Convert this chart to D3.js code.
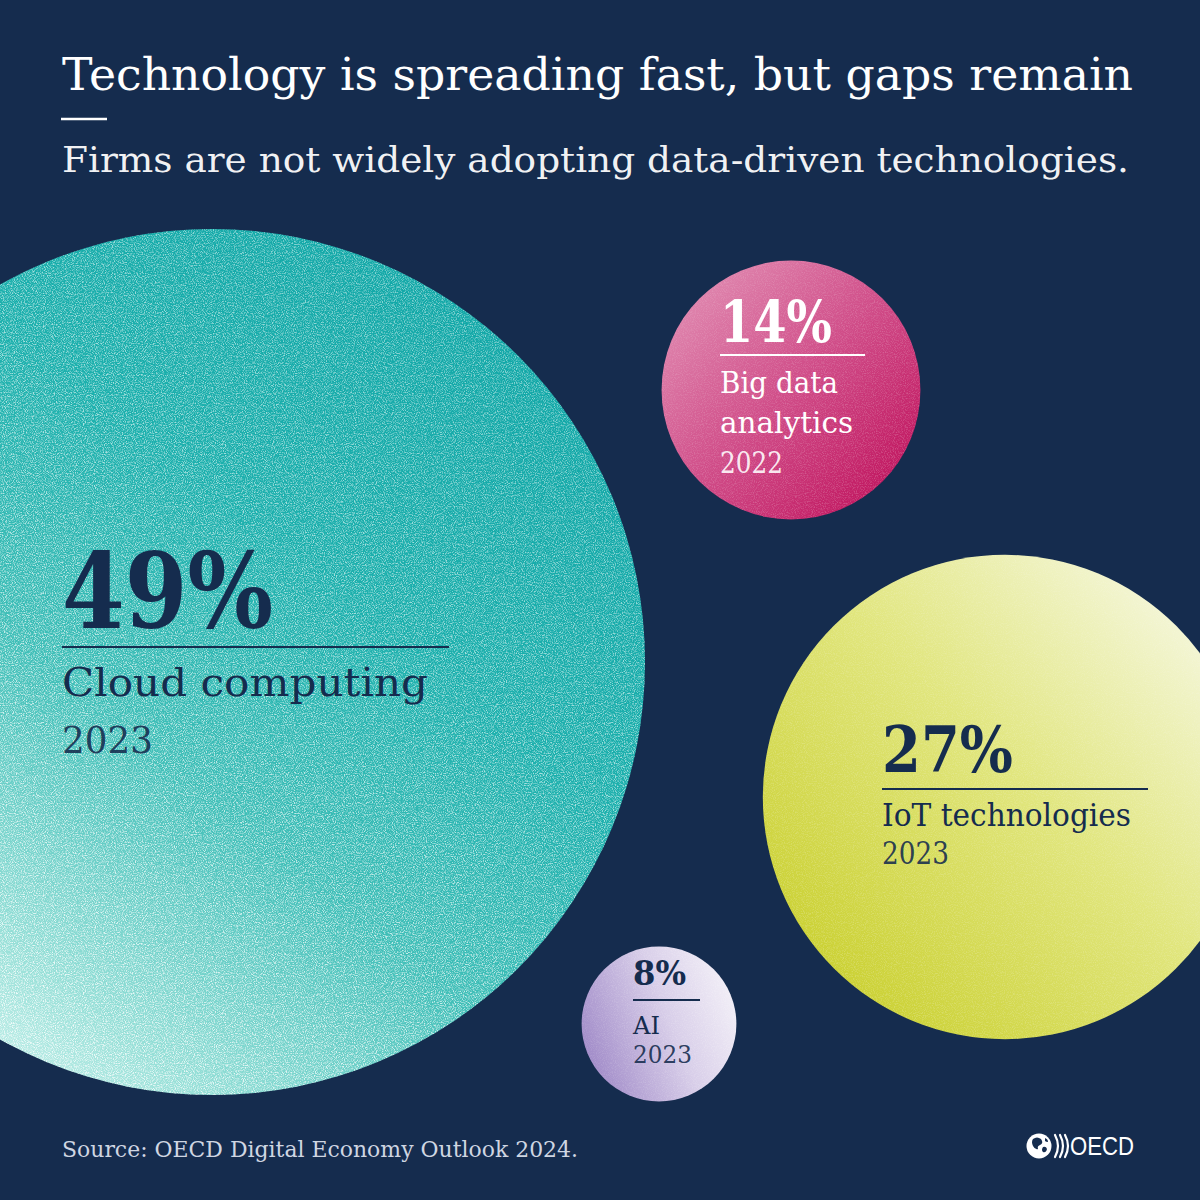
<!DOCTYPE html>
<html><head><meta charset="utf-8">
<script src="https://cdn.jsdelivr.net/npm/d3@7"></script>
<style>html,body{margin:0;padding:0;background:#152c4e;} svg{display:block}</style>
</head><body>
<script>
// ---------- data ----------
const categories = ["Cloud computing", "Big data analytics", "IoT technologies", "AI"];
const values = [49, 14, 27, 8];
const years = ["2023", "2022", "2023", "2023"];
const nameLines = [["Cloud computing"], ["Big data", "analytics"], ["IoT technologies"], ["AI"]];
const titleText = "Technology is spreading fast, but gaps remain";
const subtitleText = "Firms are not widely adopting data-driven technologies.";
const sourceText = "Source: OECD Digital Economy Outlook 2024.";

// ---------- layout & style ----------
const W = 1200, H = 1200;
const BG = "#152c4e", NAVY = "#152c4e";
const SERIF = "'DejaVu Serif', 'Liberation Serif', serif";
const centers = [[212, 662], [791, 390], [1005, 797], [659, 1024]];
const gradients = [
  {x1: 0.85, y1: 0.08, x2: 0.15, y2: 0.95, stops: [[0, "#11a7a7"], [0.35, "#1cb0ad"], [0.6, "#40bfb8"], [0.85, "#98e0d8"], [1, "#d4f5f0"]], noise: 0.85},
  {x1: 0.1, y1: 0.1, x2: 0.9, y2: 0.9, stops: [[0, "#e089b0"], [0.5, "#d04c88"], [1, "#c0145e"]], noise: 0.2},
  {x1: 0.9, y1: 0.12, x2: 0.1, y2: 0.9, stops: [[0, "#f5f7dc"], [0.45, "#e1e67e"], [1, "#c9cf2c"]], noise: 0.2},
  {x1: 0.0, y1: 0.65, x2: 1.0, y2: 0.25, stops: [[0, "#a08ac8"], [0.55, "#d8cee9"], [1, "#f4f1f8"]], noise: 0.2}
];
const labelLayout = [
  {x: 62, pctY: 628, pctSize: 104, pctW: 211, ruleY: 647, ruleW: 387, rule: 2, nameY: [696], nameSize: 39, nameW: [366], yearY: 753, yearSize: 38, yearW: 91, color: NAVY},
  {x: 720, pctY: 342, pctSize: 58, pctW: 112, ruleY: 355, ruleW: 145, rule: 2, nameY: [393, 433], nameSize: 29, nameW: [118, 133], yearY: 473, yearSize: 29, yearW: 63, color: "#ffffff"},
  {x: 882, pctY: 772, pctSize: 63, pctW: 131, ruleY: 789, ruleW: 266, rule: 2, nameY: [826], nameSize: 31, nameW: [249], yearY: 864, yearSize: 31, yearW: 67, color: NAVY},
  {x: 633, pctY: 985, pctSize: 34, pctW: 53, ruleY: 1000, ruleW: 67, rule: 2, nameY: [1034], nameSize: 24, nameW: [27], yearY: 1063, yearSize: 24, yearW: 59, color: NAVY}
];

// radius scale (linear in value)
const r = d3.scaleLinear().domain([0, 49]).range([8, 433]);

const svg = d3.select("body").append("svg").attr("width", W).attr("height", H);
svg.append("rect").attr("width", W).attr("height", H).attr("fill", BG);
const defs = svg.append("defs");

// grain filter
const f = defs.append("filter").attr("id", "grain").attr("x", "0%").attr("y", "0%").attr("width", "100%").attr("height", "100%");
f.append("feTurbulence").attr("type", "fractalNoise").attr("baseFrequency", 0.9).attr("numOctaves", 2).attr("seed", 7).attr("result", "n");
f.append("feColorMatrix").attr("in", "n").attr("type", "matrix")
  .attr("values", "0 0 0 0 1  0 0 0 0 1  0 0 0 0 1  3.2 0 0 0 -1.4").attr("result", "speck");
f.append("feComposite").attr("in", "speck").attr("in2", "SourceGraphic").attr("operator", "in");

gradients.forEach((g, i) => {
  const lg = defs.append("linearGradient").attr("id", "grad" + i)
    .attr("x1", g.x1).attr("y1", g.y1).attr("x2", g.x2).attr("y2", g.y2);
  g.stops.forEach(s => lg.append("stop").attr("offset", s[0]).attr("stop-color", s[1]));
  const mg = defs.append("linearGradient").attr("id", "ngrad" + i)
    .attr("x1", g.x1).attr("y1", g.y1).attr("x2", g.x2).attr("y2", g.y2);
  mg.append("stop").attr("offset", 0).attr("stop-color", "#fff").attr("stop-opacity", 0.55);
  mg.append("stop").attr("offset", 1).attr("stop-color", "#fff").attr("stop-opacity", 1);
  const m = defs.append("mask").attr("id", "mask" + i).attr("maskContentUnits", "objectBoundingBox");
  m.append("rect").attr("width", 1).attr("height", 1).attr("fill", "url(#ngrad" + i + ")");
});

const data = categories.map((c, i) => ({cat: c, value: values[i], year: years[i], lines: nameLines[i],
  cx: centers[i][0], cy: centers[i][1], L: labelLayout[i], i}));

const bubbles = svg.selectAll("g.bubble").data(data).join("g").attr("class", "bubble");
bubbles.append("circle").attr("cx", d => d.cx).attr("cy", d => d.cy).attr("r", d => r(d.value))
  .attr("fill", d => "url(#grad" + d.i + ")");
bubbles.append("g").attr("mask", d => "url(#mask" + d.i + ")")
  .append("circle").attr("cx", d => d.cx).attr("cy", d => d.cy).attr("r", d => r(d.value))
  .attr("fill", "#fff").attr("filter", "url(#grain)").attr("opacity", d => gradients[d.i].noise);

function addText(sel, str, x, y, size, width, opts = {}) {
  const t = sel.append("text").attr("x", x).attr("y", y).attr("font-size", size)
    .attr("font-family", opts.family || SERIF).attr("font-weight", opts.weight || 400)
    .attr("fill", opts.fill || "#fff").text(str);
  if (opts.opacity) t.attr("fill-opacity", opts.opacity);
  if (width) t.attr("textLength", width).attr("lengthAdjust", "spacingAndGlyphs");
  return t;
}

// labels
bubbles.each(function (d) {
  const g = d3.select(this), L = d.L;
  addText(g, d.value + "%", L.x, L.pctY, L.pctSize, L.pctW, {weight: 700, fill: L.color});
  g.append("line").attr("x1", L.x).attr("x2", L.x + L.ruleW).attr("y1", L.ruleY).attr("y2", L.ruleY)
    .attr("stroke", L.color).attr("stroke-width", L.rule);
  d.lines.forEach((ln, k) => addText(g, ln, L.x, L.nameY[k], L.nameSize, L.nameW[k], {fill: L.color}));
  addText(g, d.year, L.x, L.yearY, L.yearSize, L.yearW, {fill: L.color, opacity: 0.9});
});

// title, rule, subtitle
addText(svg, titleText, 62, 90, 45, 1071, {fill: "#ffffff"});
svg.append("line").attr("x1", 61).attr("x2", 107).attr("y1", 119).attr("y2", 119).attr("stroke", "#fff").attr("stroke-width", 2.5);
addText(svg, subtitleText, 62, 172, 36, 1067, {fill: "#ffffff", opacity: 0.95});

// source
addText(svg, sourceText, 62, 1157, 23, 516, {fill: "#cfd6e2"});

// OECD logo
const logo = svg.append("g");
logo.append("circle").attr("cx", 1039).attr("cy", 1146).attr("r", 12.5).attr("fill", "#fff");
logo.append("path").attr("d", "M1033,1139 q4,-3 8,0 q3,4 -1,6 q-3,1 -2,4 q-3,1 -5,-3 q-2,-4 0,-7 z").attr("fill", BG);
logo.append("path").attr("d", "M1043,1147 q3,-1 4,2 q-1,4 -4,3 q-2,-2 0,-5 z").attr("fill", BG);
logo.append("path").attr("d", "M1045,1138 q3,1 3,4 q-2,0 -3,-1 z").attr("fill", BG);
[0, 5, 10].forEach(dx => {
  logo.append("path").attr("d", `M${1055 + dx},1135 q6,11 0,22`).attr("fill", "none")
    .attr("stroke", "#fff").attr("stroke-width", 2.2).attr("stroke-linecap", "round");
});
addText(logo, "OECD", 1070, 1155, 26, 64, {family: "'Liberation Sans', Arial, sans-serif", weight: 400, fill: "#fff"});
</script>
</body></html>
